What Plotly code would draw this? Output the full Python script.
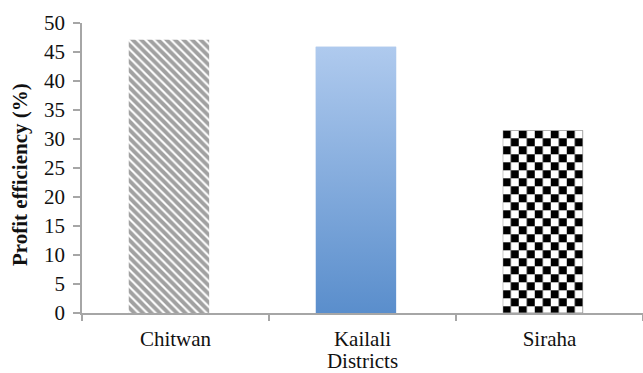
import base64
import plotly.graph_objects as go

# ---- data ----
districts = ["Chitwan", "Kailali", "Siraha"]
profit_eff = [47.1, 45.9, 31.5]
y_ticks = [0, 5, 10, 15, 20, 25, 30, 35, 40, 45, 50]
y_title = "Profit efficiency (%)"
x_title = "Districts"

# ---- style/layout constants ----
W, H = 643, 373
M_L, M_R, M_T, M_B = 82, 0, 23, 60
BAR_FRAC = 0.43
BAR_SHIFT = -0.035
Y_MAX = 50
plot_w = W - M_L - M_R
plot_h = H - M_T - M_B
cat_px = plot_w / len(districts)
FONT = "Liberation Serif, Times New Roman, serif"
FS = 21
TXT = "#111111"


def data_uri(svg):
    return "data:image/svg+xml;base64," + base64.b64encode(svg.encode()).decode()


def gradient_svg(w, h):
    return (
        f'<svg xmlns="http://www.w3.org/2000/svg" width="{w:.1f}" height="{h:.1f}" '
        f'viewBox="0 0 {w:.1f} {h:.1f}" preserveAspectRatio="none">'
        '<defs><linearGradient id="g" x1="0" y1="0" x2="0" y2="1">'
        '<stop offset="0" stop-color="#afcaee"/><stop offset="1" stop-color="#5a8ecc"/>'
        '</linearGradient></defs>'
        f'<rect x="0" y="0" width="{w:.1f}" height="{h:.1f}" fill="url(#g)"/>'
        '</svg>'
    )


def checker_svg(w, h, s=8):
    return (
        f'<svg xmlns="http://www.w3.org/2000/svg" width="{w:.1f}" height="{h:.1f}" '
        f'viewBox="0 0 {w:.1f} {h:.1f}" preserveAspectRatio="none">'
        f'<defs><pattern id="c" x="0" y="0" width="{2*s}" height="{2*s}" patternUnits="userSpaceOnUse">'
        f'<rect width="{2*s}" height="{2*s}" fill="#ffffff"/>'
        f'<rect x="0" y="0" width="{s}" height="{s}" fill="#000000"/>'
        f'<rect x="{s}" y="{s}" width="{s}" height="{s}" fill="#000000"/>'
        '</pattern></defs>'
        f'<rect x="0" y="0" width="{w:.1f}" height="{h:.1f}" fill="url(#c)" stroke="#9a9a9a" stroke-width="1"/>'
        '</svg>'
    )


fig = go.Figure()
fig.add_trace(go.Bar(
    x=districts,
    y=profit_eff,
    width=BAR_FRAC,
    offset=-BAR_FRAC / 2 + BAR_SHIFT,
    marker=dict(
        color=["#ffffff", "#7fa6da", "#ffffff"],
        line=dict(width=0),
        pattern=dict(
            shape=["\\", "", ""],
            fgcolor="#000000",
            bgcolor="#ffffff",
            size=6,
            solidity=0.65,
        ),
    ),
    showlegend=False,
    hoverinfo="x+y",
))

# fills that plotly bars cannot do natively (gradient, checkerboard), placed via the axes
bar_w_px = BAR_FRAC * cat_px
images = []
fills = {1: gradient_svg, 2: checker_svg}
for i, v in enumerate(profit_eff):
    if i in fills:
        h_px = v / Y_MAX * plot_h
        images.append(dict(
            source=data_uri(fills[i](bar_w_px, h_px)),
            xref="x", yref="y",
            x=i + BAR_SHIFT, y=0,
            sizex=BAR_FRAC, sizey=v,
            xanchor="center", yanchor="bottom",
            sizing="stretch",
            layer="above",
        ))

fig.update_layout(
    width=W, height=H,
    margin=dict(l=M_L, r=M_R, t=M_T, b=M_B, pad=0),
    paper_bgcolor="white",
    plot_bgcolor="white",
    font=dict(family=FONT, size=FS, color=TXT),
    images=images,
    xaxis=dict(
        type="category",
        range=[-0.5, len(districts) - 0.5],
        tickson="boundaries",
        ticks="outside",
        ticklen=6,
        tickwidth=1.5,
        tickcolor="#a6a6a6",
        showline=True,
        linecolor="#a6a6a6",
        linewidth=1.5,
        showgrid=False,
        ticklabelstandoff=6,
        tickfont=dict(family=FONT, size=FS, color=TXT),
        title=dict(text=x_title, font=dict(family=FONT, size=FS, color=TXT), standoff=0),
        fixedrange=True,
    ),
    yaxis=dict(
        range=[0, Y_MAX],
        tickvals=y_ticks,
        ticks="outside",
        ticklen=7,
        tickwidth=1.5,
        tickcolor="#a6a6a6",
        showline=True,
        linecolor="#a6a6a6",
        linewidth=1.5,
        showgrid=False,
        zeroline=False,
        ticklabelstandoff=4,
        tickfont=dict(family=FONT, size=FS, color=TXT),
        fixedrange=True,
    ),
    annotations=[dict(
        text="<b>" + y_title + "</b>",
        xref="paper", yref="paper",
        x=0, y=0.5,
        xshift=-62, yshift=-7,
        xanchor="center", yanchor="middle",
        textangle=-90,
        showarrow=False,
        font=dict(family=FONT, size=FS, color=TXT),
    )],
)

fig.write_html("out.html")
